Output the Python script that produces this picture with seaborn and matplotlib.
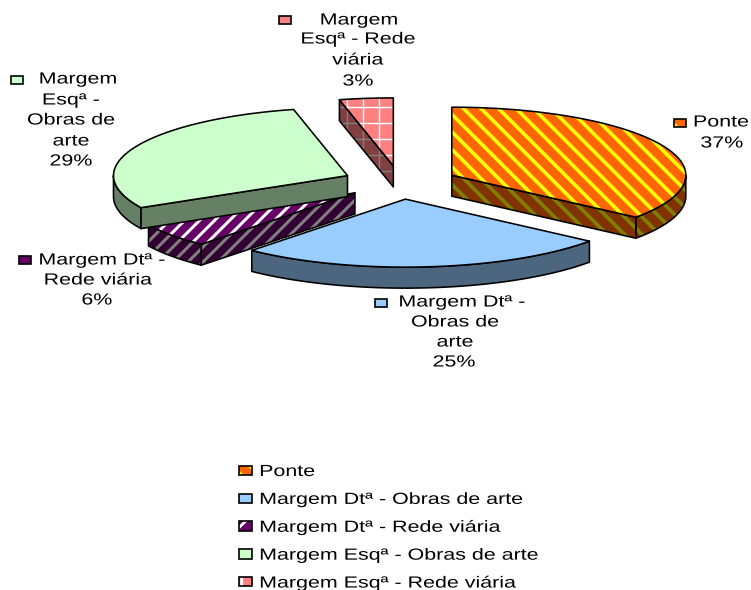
import numpy as np
import matplotlib
matplotlib.use("Agg")
import matplotlib.pyplot as plt
from matplotlib.collections import LineCollection
from matplotlib.legend_handler import HandlerTuple
from matplotlib.patches import Polygon, Rectangle
from matplotlib.patheffects import AbstractPathEffect
from matplotlib.transforms import Affine2D
import seaborn as sns

categories = ["Ponte", "Margem Dtª - Obras de arte", "Margem Dtª - Rede viária",
              "Margem Esqª - Obras de arte", "Margem Esqª - Rede viária"]
shares = [35.6, 25.8, 5.8, 29.1, 3.7]
percent_labels = ["37%", "25%", "6%", "29%", "3%"]

face_colors = ["#ff6600", "#99ccff", "#660066", "#ccffcc", "#ff8080"]
stripe_colors = ["#ffff00", None, "#ffffff", None, "#ffffff"]
wall_stripes = ["#808000", None, "#808080", None, "#808080"]
hatches = ["\\\\", None, "/", None, "+"]
# spacing, width in px and phase of the fill patterns
patterns = [(17.5, 3.6, 5), None, (15, 3, 0), None, (16, 1.4, 11)]

sns.set_theme(style="white", rc={"axes.facecolor": "white"})
plt.rcParams["font.family"] = ["Liberation Sans", "DejaVu Sans"]
plt.rcParams["hatch.linewidth"] = 2
FONT = 11.6
STRETCH = 1.33

# pie geometry in pixels of the figure
CX, CY = 400, 182.5
RX, RY = 234, 68
EXPLODE = 57.6
SQUASH = 0.29
DEPTH = 21


class WideText(AbstractPathEffect):
    # the original font is rendered wider than it is tall
    def __init__(self, x0):
        super().__init__()
        self.x0 = x0

    def draw_path(self, renderer, gc, tpath, affine, rgbFace=None):
        wide = affine + Affine2D().translate(-self.x0, 0).scale(STRETCH, 1).translate(self.x0, 0)
        renderer.draw_path(gc, tpath, wide, rgbFace)


def darker(color):
    return tuple(c * 0.5 for c in matplotlib.colors.to_rgb(color))


def stripe_lines(i):
    sp, width, phase = patterns[i]
    ks = np.arange(-60, 100)
    if hatches[i][0] == "\\":
        segs = [[(k * sp + phase - 20, -20), (k * sp + phase + 620, 620)] for k in ks]
    elif hatches[i][0] == "/":
        segs = [[(k * sp + phase + 20, -20), (k * sp + phase - 620, 620)] for k in ks]
    else:
        segs = [[(k * sp + phase, -20), (k * sp + phase, 620)] for k in ks]
        segs += [[(-20, k * sp + phase), (780, k * sp + phase)] for k in ks]
    return segs, width * 0.72


def filled(ax, pts, i, base, stripe, zorder):
    poly = Polygon(pts, closed=True, facecolor=base, edgecolor="none", zorder=zorder)
    ax.add_patch(poly)
    if patterns[i]:
        segs, lw = stripe_lines(i)
        lines = LineCollection(segs, colors=stripe, linewidths=lw, zorder=zorder)
        ax.add_collection(lines, autolim=False)
        lines.set_clip_path(poly)
    ax.add_patch(Polygon(pts, closed=True, fill=False, edgecolor="black", linewidth=1.15,
                         joinstyle="round", zorder=zorder))


def draw_slice(ax, i, start, end, zorder):
    mid = np.radians((start + end) / 2)
    ox = CX + EXPLODE * np.sin(mid)
    oy = CY - EXPLODE * SQUASH * np.cos(mid)

    def rim(angles):
        t = np.radians(angles)
        return np.column_stack([ox + RX * np.sin(t), oy - RY * np.cos(t)])

    base = darker(face_colors[i])
    down = np.array([0, DEPTH])
    apex = np.array([ox, oy])

    # outer wall, only the part that faces the viewer
    lo, hi = max(start, 90), min(end, 270)
    if lo < hi:
        arc = rim(np.linspace(lo, hi, 60))
        filled(ax, np.vstack([arc, arc[::-1] + down]), i, base, wall_stripes[i], zorder)
    # radial walls
    if 180 < start < 360:
        edge = np.vstack([apex, rim([start])])
        filled(ax, np.vstack([edge, edge[::-1] + down]), i, base, wall_stripes[i], zorder)
    if 0 < end < 180:
        edge = np.vstack([apex, rim([end])])
        filled(ax, np.vstack([edge, edge[::-1] + down]), i, base, wall_stripes[i], zorder)

    top = np.vstack([apex, rim(np.linspace(start, end, 120))])
    filled(ax, top, i, face_colors[i], stripe_colors[i], zorder + 0.5)


def swatch_parts(i):
    parts = [Rectangle((0, 0), 1, 1, facecolor=face_colors[i], edgecolor="none", zorder=6)]
    if hatches[i]:
        parts.append(Rectangle((0, 0), 1, 1, facecolor="none", edgecolor=stripe_colors[i],
                               linewidth=0, hatch=hatches[i], zorder=6))
    parts.append(Rectangle((0, 0), 1, 1, fill=False, edgecolor="black", linewidth=1.2, zorder=6))
    return parts


fig = plt.figure(figsize=(7.51, 5.90), dpi=100)
ax = fig.add_axes([0, 0, 1, 1])
ax.set_xlim(0, 751)
ax.set_ylim(590, 0)
ax.axis("off")

edges = np.concatenate([[0], np.cumsum(shares) / np.sum(shares) * 360])
for z, i in enumerate([4, 0, 2, 3, 1]):
    draw_slice(ax, i, edges[i], edges[i + 1], z + 1)

# data labels, one text per line as the wrapping is uneven
label_lines = [
    [("Ponte", 721, 122), (percent_labels[0], 722, 143)],
    [("Margem Dtª -", 462, 302), ("Obras de", 455, 322), ("arte", 455, 342), (percent_labels[1], 454, 362)],
    [("Margem Dtª -", 102, 260), ("Rede viária", 98, 280), (percent_labels[2], 97, 300)],
    [("Margem", 78, 79), ("Esqª -", 71, 100), ("Obras de", 71, 120), ("arte", 71, 141), (percent_labels[3], 71, 161)],
    [("Margem", 359, 20), ("Esqª - Rede", 358, 39), ("viária", 358, 60), (percent_labels[4], 358, 81)],
]
for lines in label_lines:
    for s, x, y in lines:
        ax.text(x, y, s, ha="center", va="center", fontsize=FONT, color="black", zorder=7,
                path_effects=[WideText(x)])

swatch_spots = [(680, 123), (381, 303), (25, 260), (17, 80), (285, 20)]
for i, (x, y) in enumerate(swatch_spots):
    for p in swatch_parts(i):
        p.set_bounds(x - 6, y - 4, 12, 8)
        ax.add_patch(p)

handles = [tuple(swatch_parts(i)) for i in range(len(categories))]
legend = ax.legend(handles, categories, handler_map={tuple: HandlerTuple(ndivide=1, pad=0)},
                   loc="upper left", bbox_to_anchor=(239 / 751, 1 - 464 / 590), frameon=False,
                   fontsize=FONT, labelcolor="black", handlelength=0.8, handleheight=0.5,
                   handletextpad=0.45, labelspacing=0.8, borderpad=0, borderaxespad=0)

fig.canvas.draw()
for t in legend.get_texts():
    t.set_path_effects([WideText(t.get_window_extent().x0)])

sns.despine(fig=fig, left=True, bottom=True)
fig.savefig("out.png", dpi=100)
